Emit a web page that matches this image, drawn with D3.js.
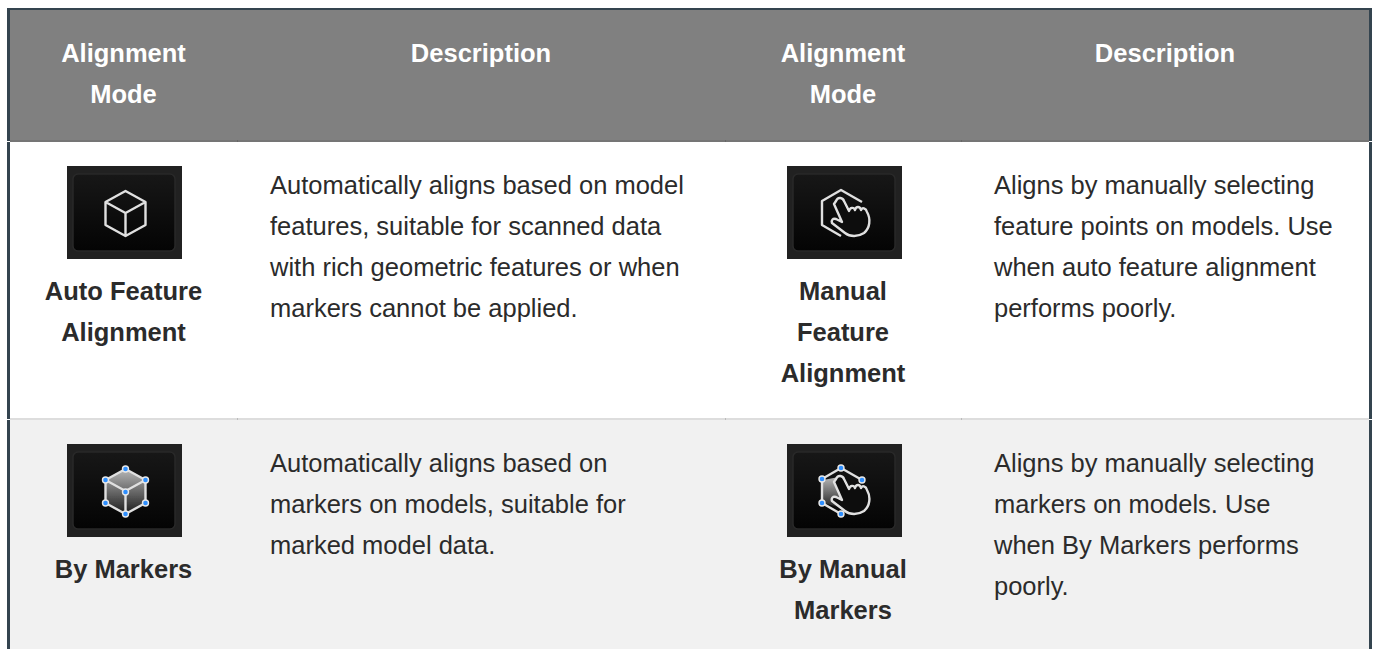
<!DOCTYPE html>
<html>
<head>
<meta charset="utf-8">
<script src="https://cdn.jsdelivr.net/npm/d3@7"></script>
<style>
html, body { margin: 0; padding: 0; background: #fff; overflow: hidden; }
text { font-family: "Liberation Sans", Arial, sans-serif; }
</style>
</head>
<body>
<div id="content"></div>
<script>
var width = 1377;
var height = 649;

// table content
var headers = [["Alignment", "Mode"], ["Description"], ["Alignment", "Mode"], ["Description"]];
var modeNames = [
    ["Auto Feature", "Alignment"],
    ["Manual", "Feature", "Alignment"],
    ["By Markers"],
    ["By Manual", "Markers"]
];
var descriptions = [
    ["Automatically aligns based on model", "features, suitable for scanned data", "with rich geometric features or when", "markers cannot be applied."],
    ["Aligns by manually selecting", "feature points on models. Use", "when auto feature alignment", "performs poorly."],
    ["Automatically aligns based on", "markers on models, suitable for", "marked model data."],
    ["Aligns by manually selecting", "markers on models. Use", "when By Markers performs", "poorly."]
];
var icons = ["cube", "cubeHand", "markers", "markersHand"];
var rowNames = ["head", "r1", "r2"];

// column and row edges on the page
var colEdges = [10, 237, 725, 961, 1369];
var rowEdges = [10, 141, 419, 655];
var fontSize = 25.5;
var lineGap = 41;

var x = d3.scaleOrdinal().domain([0, 1, 2, 3]).range(colEdges.slice(0, 4));
var xEnd = d3.scaleOrdinal().domain([0, 1, 2, 3]).range(colEdges.slice(1));
var y = d3.scaleOrdinal().domain(rowNames).range(rowEdges.slice(0, 3));
var yEnd = d3.scaleOrdinal().domain(rowNames).range(rowEdges.slice(1));
var rowFill = d3.scaleOrdinal().domain(rowNames).range(["#808080", "#ffffff", "#f1f1f1"]);

var svg = d3.select("#content").append("svg")
    .attr("width", width)
    .attr("height", height)
    .style("display", "block");

var defs = svg.append("defs");
var bg = defs.append("linearGradient").attr("id", "iconBg").attr("x1", 0).attr("x2", 0).attr("y1", 0).attr("y2", 1);
bg.append("stop").attr("offset", "0").attr("stop-color", "#171717");
bg.append("stop").attr("offset", "1").attr("stop-color", "#040404");
var shade = defs.append("linearGradient").attr("id", "cubeShade").attr("x1", 0).attr("x2", 0).attr("y1", 0).attr("y2", 1);
shade.append("stop").attr("offset", "0").attr("stop-color", "#b8b8b8");
shade.append("stop").attr("offset", "1").attr("stop-color", "#1a1a1a");
defs.append("filter").attr("id", "soft").append("feGaussianBlur").attr("stdDeviation", 0.45);

// row backgrounds
svg.selectAll("rect.row").data(rowNames).enter().append("rect")
    .attr("class", "row")
    .attr("x", colEdges[0])
    .attr("y", function(d){ return y(d); })
    .attr("width", colEdges[4] - colEdges[0])
    .attr("height", function(d){ return yEnd(d) - y(d); })
    .attr("fill", function(d){ return rowFill(d); });

// row rules
svg.append("rect").attr("x", colEdges[0]).attr("y", 140).attr("width", colEdges[4] - colEdges[0]).attr("height", 2).attr("fill", "#757575");
svg.append("rect").attr("x", colEdges[0]).attr("y", 418).attr("width", colEdges[4] - colEdges[0]).attr("height", 2).attr("fill", "#dddddd");

// small ticks where the cell borders meet the rules
colEdges.slice(1, 4).forEach(function(c){
    svg.append("rect").attr("x", c).attr("y", 140).attr("width", 1).attr("height", 2).attr("fill", "#666666");
    svg.append("rect").attr("x", c).attr("y", 418).attr("width", 1).attr("height", 2).attr("fill", "#bbbbbb");
});

// outer frame, open at the bottom
var frame = "#34444f";
svg.append("rect").attr("x", 7).attr("y", 8).attr("width", 1365).attr("height", 2).attr("fill", frame);
svg.append("rect").attr("x", 7).attr("y", 8).attr("width", 3).attr("height", 641).attr("fill", frame);
svg.append("rect").attr("x", 1369).attr("y", 8).attr("width", 3).attr("height", 641).attr("fill", frame);
[141, 419].forEach(function(v){
    svg.append("rect").attr("x", 7).attr("y", v).attr("width", 3).attr("height", 1).attr("fill", "#ffffff");
    svg.append("rect").attr("x", 1369).attr("y", v).attr("width", 3).attr("height", 1).attr("fill", "#ffffff");
});

function centerOf(col){ return (x(col) + xEnd(col)) / 2; }

// header labels
headers.forEach(function(lines, col){
    svg.selectAll("text.h" + col).data(lines).enter().append("text")
        .attr("class", "h" + col)
        .attr("x", centerOf(col))
        .attr("y", function(d, i){ return 62 + i * lineGap; })
        .attr("text-anchor", "middle")
        .attr("font-size", fontSize)
        .attr("font-weight", "bold")
        .attr("fill", "#ffffff")
        .text(function(d){ return d; });
});

// mode cells: icon + bold name
var modeCells = [
    {col: 0, row: "r1", name: modeNames[0], icon: icons[0]},
    {col: 2, row: "r1", name: modeNames[1], icon: icons[1]},
    {col: 0, row: "r2", name: modeNames[2], icon: icons[2]},
    {col: 2, row: "r2", name: modeNames[3], icon: icons[3]}
];
modeCells.forEach(function(c){
    var g = svg.append("g");
    var top = y(c.row) + 25;
    var left = Math.floor(centerOf(c.col) - 56);
    drawIcon(g.append("g").attr("transform", "translate(" + left + "," + top + ")"), c.icon);
    g.selectAll("text").data(c.name).enter().append("text")
        .attr("x", centerOf(c.col))
        .attr("y", function(d, i){ return top + 134 + i * lineGap; })
        .attr("text-anchor", "middle")
        .attr("font-size", fontSize)
        .attr("font-weight", "bold")
        .attr("fill", "#2b2b2b")
        .text(function(d){ return d; });
});

// description cells
var descCells = [
    {col: 1, row: "r1", lines: descriptions[0]},
    {col: 3, row: "r1", lines: descriptions[1]},
    {col: 1, row: "r2", lines: descriptions[2]},
    {col: 3, row: "r2", lines: descriptions[3]}
];
descCells.forEach(function(c){
    svg.append("g").selectAll("text").data(c.lines).enter().append("text")
        .attr("x", x(c.col) + 33)
        .attr("y", function(d, i){ return y(c.row) + 53 + i * lineGap; })
        .attr("font-size", fontSize)
        .attr("fill", "#2b2b2b")
        .text(function(d){ return d; });
});

function drawIcon(g, kind){
    var hasHand = kind == "cubeHand" || kind == "markersHand";
    var hasMarkers = kind == "markers" || kind == "markersHand";
    var stroke = "#e0e0e0";

    g.append("rect").attr("width", 115).attr("height", 93).attr("fill", "#212121");
    g.append("rect").attr("x", 6).attr("y", 8).attr("width", 102).attr("height", 77).attr("rx", 5)
        .attr("fill", "url(#iconBg)").attr("stroke", "#292929").attr("stroke-width", 1.5);

    var c = g.append("g")
        .attr("transform", "translate(" + (hasHand ? 56 : 58.5) + ",47)")
        .attr("filter", "url(#soft)");

    if (kind == "markers") {
        c.append("path").attr("d", "M-20,-11L0,-22L20,-11L20,12L0,23L-20,12Z").attr("fill", "url(#cubeShade)");
    }
    if (kind == "markersHand") {
        c.append("path").attr("d", "M-20,-11L-4,-14L4,18L-20,12Z").attr("fill", "url(#cubeShade)");
    }
    c.append("path")
        .attr("d", hasHand
            ? "M19,-11L-2,-23L-21,-12L-21,12L-2,23"
            : "M0,-22L20,-11L20,12L0,23L-20,12L-20,-11ZM-20,-11L0,0L20,-11M0,0L0,23")
        .attr("fill", "none").attr("stroke", stroke).attr("stroke-width", 2.4).attr("stroke-linejoin", "round");
    if (hasHand) {
        c.append("path")
            .attr("d", "M-7,-12C-5,-17 0,-15 1,-12L6,-2C7,-6 11,-6 12,-3C13,-7 17,-7 18,-3C19,-6 23,-5 24,-1C28,6 27,15 21,20C15,24 7,24 2,20L-11,10C-12,7 -10,5 -7,6L-1,9L-9,-9Z")
            .attr("fill", "#0c0c0c").attr("stroke", stroke).attr("stroke-width", 2.4).attr("stroke-linejoin", "round");
    }
    if (hasMarkers) {
        var pts = hasHand
            ? [[-2, -23], [-21, -12], [19, -11], [-21, 12], [-2, 23]]
            : [[0, -22], [-20, -11], [20, -11], [0, 1], [-20, 12], [20, 12], [0, 23]];
        pts.forEach(function(p){
            c.append("circle").attr("cx", p[0]).attr("cy", p[1]).attr("r", 3)
                .attr("fill", "#2f8fff").attr("stroke", "#e8e8e8").attr("stroke-width", 1.4);
        });
    }
}
</script>
</body>
</html>
